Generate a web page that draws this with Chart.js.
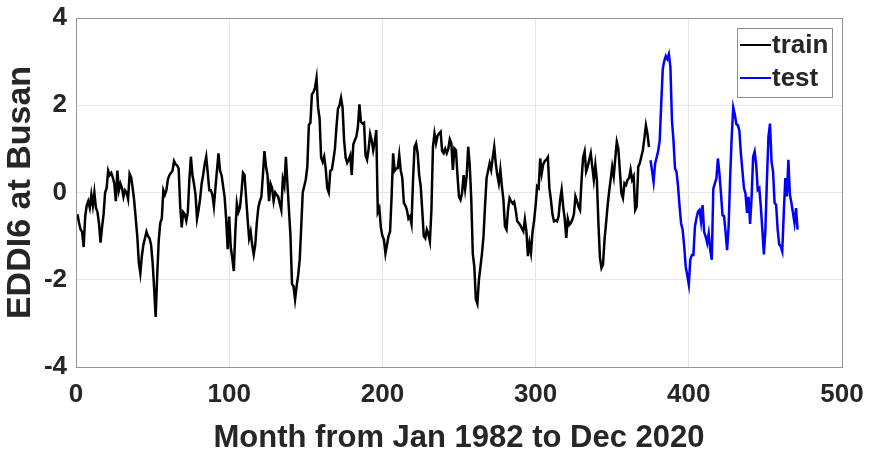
<!DOCTYPE html>
<html>
<head>
<meta charset="utf-8">
<script src="https://cdn.jsdelivr.net/npm/chart.js@4/dist/chart.umd.min.js"></script>
<style>
  html, body { margin: 0; padding: 0; background: #fff; }
  #wrap { width: 873px; height: 458px; }
</style>
</head>
<body>
<div id="wrap"><canvas id="myChart" width="873" height="458"></canvas></div>
<script>
// EDDI6 at Busan, monthly, index 1 = Jan 1982
let train_start = 1;
let train_values = [
  -0.5, -0.7, -0.85, -0.9, -1.25, -0.55, -0.3, -0.2, -0.35, -0.05,
  -0.3, 0.0, -0.35, -0.45, -0.7, -1.15, -0.8, -0.5, 0.0, 0.1,
  0.5, 0.4, 0.45, 0.35, 0.2, -0.2, 0.5, 0.05, 0.2, 0.1,
  -0.1, 0.05, 0.0, -0.15, 0.43, 0.35, 0.1, -0.2, -0.6, -1.0,
  -1.6, -1.85, -1.45, -1.2, -1.05, -0.9, -1.0, -1.05, -1.2, -1.6,
  -2.2, -2.85, -1.9, -1.1, -0.7, -0.6, 0.05, -0.05, 0.05, 0.3,
  0.4, 0.45, 0.5, 0.72, 0.65, 0.62, 0.55, -0.3, -0.8, -0.45,
  -0.5, -0.65, -0.45, 0.3, 0.82, 0.4, 0.2, -0.05, -0.6, -0.4,
  -0.15, 0.2, 0.4, 0.65, 0.82, 0.45, 0.05, 0.05, -0.05, -0.32,
  0.1, 0.5, 0.9, 0.5, 0.4, 0.15, -0.1, -0.6, -1.3, -0.55,
  -1.25, -1.5, -1.8, -0.9, -0.25, -0.45, -0.35, 0.0, 0.45, 0.4,
  -0.1, -0.6, -1.05, -0.9, -1.2, -1.42, -1.2, -0.7, -0.35, -0.2,
  -0.1, 0.4, 0.95, 0.6, 0.4, -0.2, 0.2, 0.1, -0.2, 0.0,
  -0.05, -0.1, -0.25, -0.4, 0.3, 0.15, 0.82, 0.2, -0.4, -1.0,
  -2.1, -2.15, -2.45, -2.15, -1.9, -1.55, -0.8, 0.0, 0.15, 0.3,
  0.6, 1.55, 1.6, 2.25, 2.3, 2.4, 2.62, 1.95, 1.7, 0.8,
  0.7, 0.82, 0.55, 0.1, 0.0, 0.5, 0.52, 0.75, 1.0, 1.5,
  1.92, 2.0, 2.17, 1.95, 1.2, 0.8, 0.68, 0.75, 0.85, 0.4,
  1.1, 1.2, 1.28, 1.5, 2.02, 1.62, 1.58, 1.6, 0.85, 0.75,
  1.0, 1.34, 1.2, 0.97, 1.16, 1.43, -0.45, -0.36, -0.8, -1.0,
  -1.08, -1.4, -1.2, -1.0, -0.9, -0.1, 0.9, 0.5, 0.55, 0.56,
  0.86, 0.5, 0.33, -0.24, -0.3, -0.4, -0.6, -0.55, -0.72, 0.3,
  1.05, 1.13, 0.9, 0.4, 0.15, -0.4, -1.0, -1.05, -0.85, -0.95,
  -1.12, -0.4, 1.05, 1.35, 1.13, 1.3, 1.35, 1.39, 0.95, 0.9,
  1.0, 0.9, 1.0, 1.22, 1.13, 0.52, 1.01, 0.97, 0.4, -0.1,
  -0.17, -0.02, 0.4, 0.08, 0.37, 1.05, 0.63, -0.15, -1.4, -1.7,
  -2.45, -2.55, -2.0, -1.7, -1.4, -1.0, -0.3, 0.33, 0.5, 0.67,
  0.52, 0.8, 1.05, 0.67, 0.4, 0.21, 0.52, 0.14, -0.17, -0.78,
  -0.85, -0.4, -0.13, -0.2, -0.25, -0.21, -0.4, -0.66, -0.7, -0.75,
  -0.82, -0.89, -0.62, -0.89, -1.46, -1.16, -1.38, -0.9, -0.65, -0.3,
  0.14, 0.1, 0.78, 0.44, 0.65, 0.72, 0.75, 0.81, 0.1, -0.17,
  -0.5, -0.66, -0.64, -0.66, -0.55, -0.17, 0.06, -0.32, -0.6, -1.04,
  -0.6, -0.74, -0.7, -0.62, -0.5, -0.09, -0.2, -0.32, -0.4, 0.29,
  0.8, 0.94, 0.48, 0.59, 0.75, 0.9, 0.59, 0.29, 0.63, 0.29,
  -0.7, -1.5, -1.73, -1.65, -1.08, -0.7, -0.3, 0.02, 0.3, 0.59,
  0.37, 0.78, 1.16, 1.01, 0.5, -0.02, -0.13, 0.21, 0.17, 0.29,
  0.33, 0.52, 0.29, 0.37, -0.4, -0.32, 0.59, 0.67, 0.82, 0.97,
  1.24, 1.54, 1.35, 1.04
];

let test_start = 375;
let test_values = [
  0.74, 0.5, 0.24, 0.66, 0.8, 0.95, 1.19, 2.03, 2.83, 3.02,
  3.13, 3.06, 3.17, 2.87, 1.65, 1.19, 0.55, 0.47, 0.13, -0.33,
  -0.71, -0.86, -1.24, -1.7, -1.9, -2.11, -1.54, -1.43, -1.43, -0.78,
  -0.59, -0.44, -0.4, -0.67, -0.29, -0.9, -1.01, -1.16, -0.94, -1.32,
  -1.54, 0.09, 0.21, 0.32, 0.78, 0.43, -0.02, -0.52, -0.54, -0.9,
  -1.32, -0.78, 0.36, 1.27, 1.95, 1.8, 1.57, 1.54, 1.42, 0.89,
  0.5, 0.1, -0.02, -0.47, -0.1, -0.72, -0.1, 0.82, 0.94, 0.63,
  0.06, 0.1, -0.32, -0.85, -1.42, -0.85, 0.3, 1.28, 1.58, 0.71,
  0.48, -0.24, -0.28, -0.85, -1.19, -1.23, -1.35, -0.47, 0.33, -0.09,
  0.75, -0.05, -0.24, -0.47, -0.7, -0.36, -0.85
];

let series_names = ['train', 'test'];
let series_colors = ['#000000', '#0000ff'];
let x_ticks = [0, 100, 200, 300, 400, 500];
let y_ticks = [-4, -2, 0, 2, 4];
let x_title = 'Month from Jan 1982 to Dec 2020';
let y_title = 'EDDI6 at Busan';

const font_family = '"Liberation Sans", Arial, Helvetica, sans-serif';
const text_color = '#262626';

function toPoints(start, values) {
  return values.map((v, i) => ({ x: start + i, y: v }));
}

// full box around the axes + legend box in the upper right, MATLAB style
const boxPlugin = {
  id: 'boxPlugin',
  afterDraw(chart) {
    const ctx = chart.ctx;
    const a = chart.chartArea;
    ctx.save();
    ctx.strokeStyle = '#959595';
    ctx.lineWidth = 1;
    ctx.strokeRect(a.left + 0.5, a.top + 0.5, a.right - a.left, a.bottom - a.top);

    // legend
    const bx = 737, by = 28, bw = 95, bh = 69;
    ctx.fillStyle = '#fff';
    ctx.fillRect(bx, by, bw, bh);
    ctx.strokeStyle = '#8c8c8c';
    ctx.strokeRect(bx + 0.5, by + 0.5, bw, bh);
    ctx.font = 'bold 26px ' + font_family;
    ctx.textBaseline = 'middle';
    chart.data.datasets.forEach((ds, i) => {
      const ly = by + 17 + i * 33;
      ctx.strokeStyle = ds.borderColor;
      ctx.lineWidth = 2;
      ctx.beginPath();
      ctx.moveTo(bx + 3, ly);
      ctx.lineTo(bx + 34, ly);
      ctx.stroke();
      ctx.fillStyle = text_color;
      ctx.fillText(ds.label, bx + 35, ly + 1);
    });
    ctx.restore();
  }
};

const myChart = document.getElementById('myChart');
new Chart(myChart, {
  type: 'line',
  data: {
    datasets: [{
      label: series_names[0],
      data: toPoints(train_start, train_values),
      borderColor: series_colors[0],
      borderWidth: 2.5,
      pointRadius: 0,
      tension: 0
    }, {
      label: series_names[1],
      data: toPoints(test_start, test_values),
      borderColor: series_colors[1],
      borderWidth: 2.5,
      pointRadius: 0,
      tension: 0
    }]
  },
  options: {
    responsive: false,
    animation: false,
    events: [],
    layout: { padding: { top: 18, right: 31, left: 0, bottom: 0 } },
    plugins: {
      legend: { display: false },
      tooltip: { enabled: false }
    },
    scales: {
      x: {
        type: 'linear',
        min: 0,
        max: 500,
        afterBuildTicks: s => { s.ticks = x_ticks.map(v => ({ value: v })); },
        afterFit: s => { s.height = 91; s.paddingLeft = 0; s.paddingRight = 0; },
        border: { display: false },
        grid: { color: '#e6e6e6', drawTicks: false },
        ticks: {
          padding: 12,
          color: text_color,
          font: { family: font_family, size: 26, weight: 'bold' }
        },
        title: {
          display: true,
          text: x_title,
          color: text_color,
          padding: { top: 0, bottom: 1 },
          font: { family: font_family, size: 31, weight: 'bold' }
        }
      },
      y: {
        min: -4,
        max: 4,
        afterBuildTicks: s => { s.ticks = y_ticks.map(v => ({ value: v })); },
        afterFit: s => { s.width = 76; s.paddingTop = 0; s.paddingBottom = 0; },
        border: { display: false },
        grid: { color: '#e6e6e6', drawTicks: false },
        ticks: {
          padding: 9,
          color: text_color,
          font: { family: font_family, size: 26, weight: 'bold' }
        },
        title: {
          display: true,
          text: y_title,
          color: text_color,
          padding: { top: 0, bottom: 2 },
          font: { family: font_family, size: 34, weight: 'bold' }
        }
      }
    }
  },
  plugins: [boxPlugin]
});
</script>
</body>
</html>
